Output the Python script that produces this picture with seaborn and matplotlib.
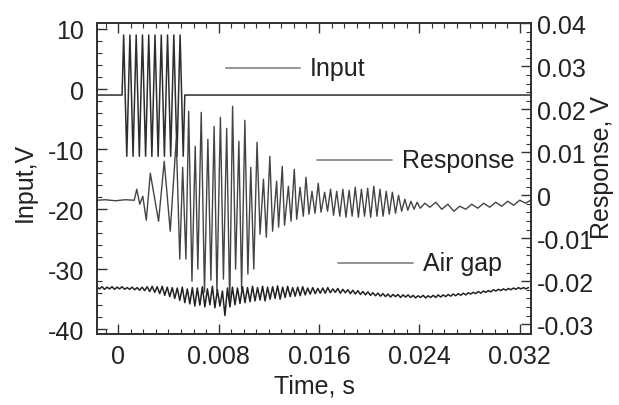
import numpy as np
import pandas as pd
import matplotlib
matplotlib.use("Agg")
import matplotlib.pyplot as plt
import seaborn as sns
from matplotlib.ticker import FixedLocator, MultipleLocator, FuncFormatter

# ---------------- data (time in ms, input in V, response / air gap in mV) ----------------
input_t_ms = [-1.7, 0.3, 0.425, 0.675, 0.925, 1.175, 1.425, 1.675, 1.925, 2.175, 2.425,
              2.675, 2.925, 3.175, 3.425, 3.675, 3.925, 4.175, 4.425, 4.675, 4.925,
              5.175, 5.3, 32.9]
input_v = [-1.0, -1.0, 9.0, -11.2, 9.0, -11.2, 9.0, -11.2, 9.0, -11.2, 9.0,
           -11.2, 9.0, -11.2, 9.0, -11.2, 9.0, -11.2, 9.0, -11.2, 9.0,
           -11.2, -1.0, -1.0]

resp_t_ms = [-1.67, -1.03, -0.24, 0.56, 1.27, 1.47, 1.71, 1.95, 2.23, 2.55, 3.21, 3.66,
             4.14, 4.62, 4.90, 5.13, 5.39, 5.61, 5.87, 6.13, 6.34, 6.61, 6.87, 7.14,
             7.38, 7.64, 7.86, 8.14, 8.38, 8.64, 8.88, 9.11, 9.35, 9.61, 9.83, 10.09,
             10.33, 10.56, 10.80, 11.06, 11.30, 11.57, 11.80, 12.08, 12.30, 12.62,
             12.78, 13.07, 13.25, 13.56, 13.77, 14.03, 14.22, 14.49, 14.75, 14.96,
             15.20, 15.44, 15.68, 15.94, 16.16, 16.45, 16.68, 16.92, 17.16, 17.41,
             17.66, 17.90, 18.15, 18.40, 18.64, 18.89, 19.14, 19.38, 19.63, 19.88,
             20.12, 20.37, 20.62, 20.86, 21.11, 21.36, 21.60, 21.85, 22.10, 22.34,
             22.59, 22.84, 23.08, 23.33, 23.58, 23.82, 24.07, 24.44, 24.84, 25.31,
             25.79, 26.27, 26.75, 27.22, 27.70, 28.18, 28.66, 29.13, 29.61, 30.09,
             30.57, 31.04, 31.52, 32.00, 32.48, 32.87]
resp_mv = [-1.16, -1.05, -1.28, -1.05, -1.16, 1.4, -2.09, -0.23, -5.81, 5.12, -6.05, 7.91,
           -8.37, 13.02, -14.88, 6.51, -14.88, 19.53, -20.0, 11.4, -17.2, 19.3, -22.56, 13.02,
           -19.77, 16.05, -22.33, 18.14, -19.53, 15.58, -25.35, 20.7, -17.2, 12.56, -21.86, 17.44,
           -18.37, 6.51, -17.2, 12.33, -9.07, 3.72, -9.77, 9.07, -8.37, 3.26,
           -7.44, 6.74, -6.98, 2.09, -6.05, 6.05, -5.58, 1.86, -4.88, 4.19,
           -4.42, 0.93, -4.19, 2.79, -3.95, 0.70, -3.72, 1.4, -4.65, 0.93,
           -4.88, 1.4, -5.12, 1.16, -4.88, 1.86, -5.12, 1.4, -4.88, 1.63,
           -5.12, 2.09, -4.88, 1.4, -4.88, 0.93, -4.42, 0.70, -4.19, 0.0,
           -3.72, -0.93, -3.49, -1.40, -3.26, -1.63, -3.02, -1.86, -2.79, -1.63,
           -3.26, -2.09, -3.72, -2.56, -3.26, -2.09, -3.02, -1.86, -2.79, -1.63,
           -2.56, -1.40, -2.33, -1.16, -1.86, -1.16]

airgap_t0_ms = -1.7
airgap_dt_ms = 0.2
airgap_mv = [-21.4, -21.8, -21.3, -21.9, -21.4,
             -21.8, -21.3, -21.9, -21.4, -21.8,
             -21.3, -21.9, -21.5, -21.9, -21.4,
             -22.0, -21.5, -22.1, -21.4, -22.2,
             -21.3, -22.4, -21.2, -22.6, -21.3,
             -22.9, -21.2, -23.3, -21.4, -23.6,
             -21.5, -24.0, -21.6, -24.5, -21.4,
             -25.0, -21.8, -25.3, -21.5, -25.8,
             -21.6, -25.6, -21.3, -26.0, -21.8,
             -25.5, -21.2, -26.2, -22.0, -25.8,
             -22.3, -28.0, -21.6, -26.0, -21.4,
             -25.5, -21.6, -25.2, -21.3, -25.0,
             -21.5, -24.8, -21.2, -24.6, -21.5,
             -24.4, -21.2, -24.6, -21.4, -24.2,
             -21.3, -24.0, -21.1, -24.2, -21.4,
             -23.8, -21.2, -23.6, -21.5, -23.5,
             -21.4, -23.4, -21.3, -23.2, -21.6,
             -23.0, -21.5, -22.9, -21.7, -22.8,
             -21.6, -22.8, -21.5, -22.7, -21.8,
             -22.6, -21.7, -22.8, -21.9, -22.7,
             -22.0, -22.9, -22.1, -23.0, -22.2,
             -23.1, -22.4, -23.2, -22.5, -23.3,
             -22.7, -23.4, -22.8, -23.5, -22.9,
             -23.6, -23.0, -23.7, -23.1, -23.6,
             -23.1, -23.8, -23.2, -23.7, -23.2,
             -23.8, -23.3, -23.9, -23.4, -23.8,
             -23.3, -23.9, -23.4, -23.8, -23.3,
             -23.8, -23.2, -23.7, -23.2, -23.6,
             -23.1, -23.5, -23.0, -23.4, -22.9,
             -23.3, -22.8, -23.2, -22.7, -23.0,
             -22.6, -22.9, -22.4, -22.8, -22.3,
             -22.6, -22.2, -22.5, -22.0, -22.3,
             -21.9, -22.2, -21.8, -22.1, -21.7,
             -22.0, -21.6, -21.9, -21.5, -21.8,
             -21.5, -21.8, -21.5]

x_ticks = [0, 0.008, 0.016, 0.024, 0.032]
left_ticks = [10, 0, -10, -20, -30, -40]
right_ticks = [0.04, 0.03, 0.02, 0.01, 0, -0.01, -0.02, -0.03]

# ---------------- tables ----------------
df_in = pd.DataFrame({"t": np.array(input_t_ms) * 1e-3, "v": input_v})
df_resp = pd.DataFrame({"t": np.array(resp_t_ms) * 1e-3, "v": np.array(resp_mv) * 1e-3})
ag_t = (airgap_t0_ms + airgap_dt_ms * np.arange(len(airgap_mv))) * 1e-3
df_ag = pd.DataFrame({"t": ag_t, "v": np.array(airgap_mv) * 1e-3})

# ---------------- style ----------------
sns.set_style("ticks")
plt.rcParams["font.family"] = ["Liberation Sans", "DejaVu Sans"]
plt.rcParams["xtick.direction"] = "in"
plt.rcParams["ytick.direction"] = "in"
FS = 18
TXT = "#222222"
SP = "#333333"

fig = plt.figure(figsize=(6.19, 4.06), dpi=100)
ax = fig.add_axes([0.1567, 0.1749, 0.7011, 0.766])
ax2 = ax.twinx()

sns.lineplot(data=df_in, x="t", y="v", ax=ax, color="#2e2e2e", lw=1.1,
             estimator=None, sort=False, legend=False)
sns.lineplot(data=df_resp, x="t", y="v", ax=ax2, color="#444444", lw=1.0,
             estimator=None, sort=False, legend=False)
sns.lineplot(data=df_ag, x="t", y="v", ax=ax2, color="#222222", lw=1.1,
             estimator=None, sort=False, legend=False)

ax.set_xlim(-0.0017, 0.0329)
ax.set_ylim(-40.8, 11)
ax2.set_ylim(-0.0323, 0.0401)

ax.xaxis.set_major_locator(FixedLocator(x_ticks))
ax.xaxis.set_minor_locator(MultipleLocator(0.001))
ax.yaxis.set_major_locator(FixedLocator(left_ticks))
ax.yaxis.set_minor_locator(MultipleLocator(2))
ax2.yaxis.set_major_locator(FixedLocator(right_ticks))
ax2.yaxis.set_minor_locator(MultipleLocator(0.002))

ax.xaxis.set_major_formatter(FuncFormatter(lambda v, p: "0" if abs(v) < 1e-12 else f"{v:.3f}"))
ax.yaxis.set_major_formatter(FuncFormatter(lambda v, p: f"{v:.0f}"))
ax2.yaxis.set_major_formatter(FuncFormatter(lambda v, p: "0" if abs(v) < 1e-12 else f"{v:.2f}"))

ax.tick_params(axis="x", which="both", top=True, bottom=True, direction="in",
               labelsize=FS, colors=SP, labelcolor=TXT, pad=7)
ax.tick_params(axis="y", which="both", left=True, right=False, direction="in",
               labelsize=FS, colors=SP, labelcolor=TXT, pad=9)
ax2.tick_params(axis="y", which="both", right=True, direction="in",
                labelsize=FS, colors=SP, labelcolor=TXT, pad=4)
for a in (ax, ax2):
    a.tick_params(which="major", length=7, width=1.0)
    a.tick_params(which="minor", length=3.5, width=0.8)
    for s in a.spines.values():
        s.set_color(SP)
        s.set_linewidth(1.3)
        s.set_visible(True)

ax.set_xlabel("Time, s", fontsize=FS, color=TXT, labelpad=4)
ax.set_ylabel("Input,V", fontsize=FS, color=TXT)
ax.yaxis.set_label_coords(-0.166, 0.49)
ax.yaxis.label.set_va("center")
ax2.set_ylabel("Response, V", fontsize=FS, color=TXT)
ax2.yaxis.set_label_coords(1.163, 0.54)
ax2.yaxis.label.set_va("center")
ax2.yaxis.label.set_ha("center")

# in-plot labels with line samples (axes fractions)
leg_col = "#8a8a8a"
for (x0, x1, y, tx, label) in [(0.297, 0.468, 0.855, 0.491, "Input"),
                                (0.507, 0.680, 0.559, 0.702, "Response"),
                                (0.555, 0.728, 0.228, 0.751, "Air gap")]:
    ax.plot([x0, x1], [y, y], transform=ax.transAxes, color=leg_col, lw=1.3)
    ax.text(tx, y, label, transform=ax.transAxes, fontsize=FS, color=TXT,
            va="center", ha="left")

fig.savefig("out.png", dpi=100)
